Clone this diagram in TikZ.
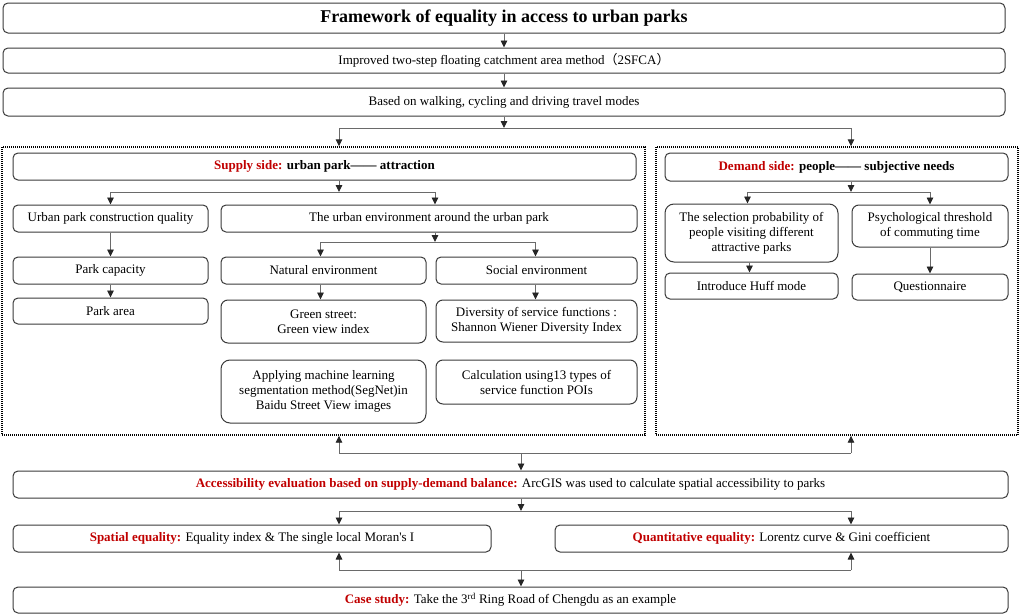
\documentclass[tikz,border=0pt]{standalone}
\usepackage{fontspec}
\setmainfont{Liberation Serif}
\newfontfamily\cjk{Noto Sans CJK SC}
\usetikzlibrary{arrows.meta,calc}
\definecolor{hred}{HTML}{C00000}
\definecolor{bord}{HTML}{3A3A3A}
\definecolor{lin}{HTML}{6A6A6A}
\begin{document}
\begin{tikzpicture}[x=1pt,y=-1pt,
  box/.style={draw=bord,line width=1pt,rounded corners=5pt,align=center,inner sep=2pt,font=\fontsize{13}{15}\selectfont},
  bigbox/.style={box,rounded corners=9pt},
  dotbox/.style={draw=black,line width=1.4pt,dash pattern=on 1pt off 1pt},
  ln/.style={draw=lin,line width=0.9pt},
  arr/.style={ln,-{Triangle[length=7pt,width=6.5pt,color=black!85]}},
  hl/.style={text=hred}]
\useasboundingbox (0,0) rectangle (1021,616);
% top boxes
\node[box,minimum width=1002pt,minimum height=30pt,font=\fontsize{18}{20}\selectfont\bfseries] (title) at (504,18) {Framework of equality in access to urban parks};
\node[box,minimum width=1002pt,minimum height=25pt] (b2) at (504,60.5) {Improved two-step floating catchment area method{\cjk （}2SFCA{\cjk ）}};
\node[box,minimum width=1002pt,minimum height=28pt] (b3) at (504,102) {Based on walking, cycling and driving travel modes};
% dotted frames
\node[dotbox,minimum width=643pt,minimum height=288pt,inner sep=0pt] (supD) at (323.5,291) {};
\node[dotbox,minimum width=362pt,minimum height=288pt,inner sep=0pt] (demD) at (837,291) {};
% supply side
\node[box,minimum width=623pt,minimum height=27pt,font=\fontsize{13}{15}\selectfont\bfseries] (sup) at (324.5,166.5) {\textcolor{hred}{Supply side:} urban park—— attraction};
\node[box,minimum width=195pt,minimum height=27pt] (upcq) at (110.5,218.5) {Urban park construction quality};
\node[box,minimum width=416pt,minimum height=27pt] (uenv) at (429,218.5) {The urban environment around the urban park};
\node[box,minimum width=195pt,minimum height=27pt] (cap) at (110.5,270.5) {Park capacity};
\node[box,minimum width=195pt,minimum height=26pt] (area) at (110.5,311) {Park area};
\node[box,minimum width=205pt,minimum height=27pt] (nat) at (323.5,270.5) {Natural environment};
\node[box,minimum width=201pt,minimum height=27pt] (soc) at (536.5,270.5) {Social environment};
\node[box,rounded corners=7pt,minimum width=205pt,minimum height=43pt] (green) at (323.5,321.5) {Green street:\\Green view index};
\node[box,rounded corners=7pt,minimum width=201pt,minimum height=42pt] (div) at (536.5,321) {Diversity of service functions :\\Shannon Wiener Diversity Index};
\node[bigbox,minimum width=205pt,minimum height=63pt] (ml) at (323.5,391.5) {Applying machine learning\\segmentation method(SegNet)in\\Baidu Street View images};
\node[box,rounded corners=7pt,minimum width=201pt,minimum height=44pt] (calc) at (536.5,382) {Calculation using13 types of\\service function POIs};
% demand side
\node[box,minimum width=343pt,minimum height=28pt,font=\fontsize{13}{15}\selectfont\bfseries] (dem) at (836.5,167) {\textcolor{hred}{Demand side:} people—— subjective needs};
\node[bigbox,minimum width=173pt,minimum height=58pt] (sel) at (751.5,233) {The selection probability of\\people visiting different\\attractive parks};
\node[box,rounded corners=7pt,minimum width=156pt,minimum height=42pt] (psy) at (930,226) {Psychological threshold\\of commuting time};
\node[box,minimum width=173pt,minimum height=26pt] (huff) at (751.5,286) {Introduce Huff mode};
\node[box,minimum width=156pt,minimum height=26pt] (quest) at (930,287) {Questionnaire};
% bottom
\node[box,minimum width=995pt,minimum height=27pt] (acc) at (510.5,484.5) {\textbf{\textcolor{hred}{Accessibility evaluation based on supply-demand balance:}} ArcGIS was used to calculate spatial accessibility to parks};
\node[box,minimum width=478pt,minimum height=27pt] (spat) at (252,538.5) {\textbf{\textcolor{hred}{Spatial equality:}} Equality index \& The single local Moran\textquotesingle s I};
\node[box,minimum width=453pt,minimum height=27pt] (quant) at (781.5,538.5) {\textbf{\textcolor{hred}{Quantitative equality:}} Lorentz curve \& Gini coefficient};
\node[box,minimum width=995pt,minimum height=26pt] (case) at (510.5,600) {\textbf{\textcolor{hred}{Case study:}} Take the 3\textsuperscript{rd} Ring Road of Chengdu as an example};
% junction coordinates
\coordinate (tL) at (339,128);
\coordinate (tR) at (851,128);
\coordinate (sJ) at (339,192);
\coordinate (uJ) at (435,242);
\coordinate (dJ) at (851,192);
\coordinate (bL) at (339,453);
\coordinate (bR) at (851,453);
\coordinate (bM) at (521,453);
\coordinate (mL) at (339,511);
\coordinate (mR) at (851,511);
\coordinate (mM) at (521,511);
\coordinate (lL) at (339,570);
\coordinate (lR) at (851,570);
\coordinate (lM) at (521,570);
% top arrows
\draw[arr] (title.south) -- (b2.north);
\draw[arr] (b2.south) -- (b3.north);
\draw[arr] (b3.south) -- (b3.south |- tL);
\draw[arr] (b3.south |- tL) -- (tL) -- (tL |- supD.north);
\draw[arr] (b3.south |- tL) -- (tR) -- (tR |- demD.north);
% supply arrows
\draw[arr] (sJ |- sup.south) -- (sJ);
\draw[arr] (sJ) -| (upcq.north);
\draw[arr] (sJ) -| ([xshift=6pt]uenv.north);
\draw[arr] (uJ |- uenv.south) -- (uJ);
\draw[arr] (uJ) -| ([xshift=-3pt]nat.north);
\draw[arr] (uJ) -| ([xshift=-1pt]soc.north);
\draw[arr] (upcq.south) -- (cap.north);
\draw[arr] (cap.south) -- (area.north);
\draw[arr] ([xshift=-3pt]nat.south) -- ([xshift=-3pt]green.north);
\draw[arr] ([xshift=-1pt]soc.south) -- ([xshift=-1pt]div.north);
% demand arrows
\draw[arr] (dJ |- dem.south) -- (dJ);
\draw[arr] (dJ) -| ([xshift=-4pt]sel.north);
\draw[arr] (dJ) -| (psy.north);
\draw[arr] ([xshift=-2pt]sel.south) -- ([xshift=-2pt]huff.north);
\draw[arr] (psy.south) -- (quest.north);
% bottom arrows
\draw[ln] (bL) -- (bR);
\draw[arr] (bL) -- (bL |- supD.south);
\draw[arr] (bR) -- (bR |- demD.south);
\draw[arr] (bM) -- (bM |- acc.north);
\draw[arr] (mM |- acc.south) -- (mM);
\draw[ln] (mL) -- (mR);
\draw[arr] (mL) -- (mL |- spat.north);
\draw[arr] (mR) -- (mR |- quant.north);
\draw[ln] (lL) -- (lR);
\draw[arr] (lL) -- (lL |- spat.south);
\draw[arr] (lR) -- (lR |- quant.south);
\draw[arr] (lM) -- (lM |- case.north);
\end{tikzpicture}
\end{document}
